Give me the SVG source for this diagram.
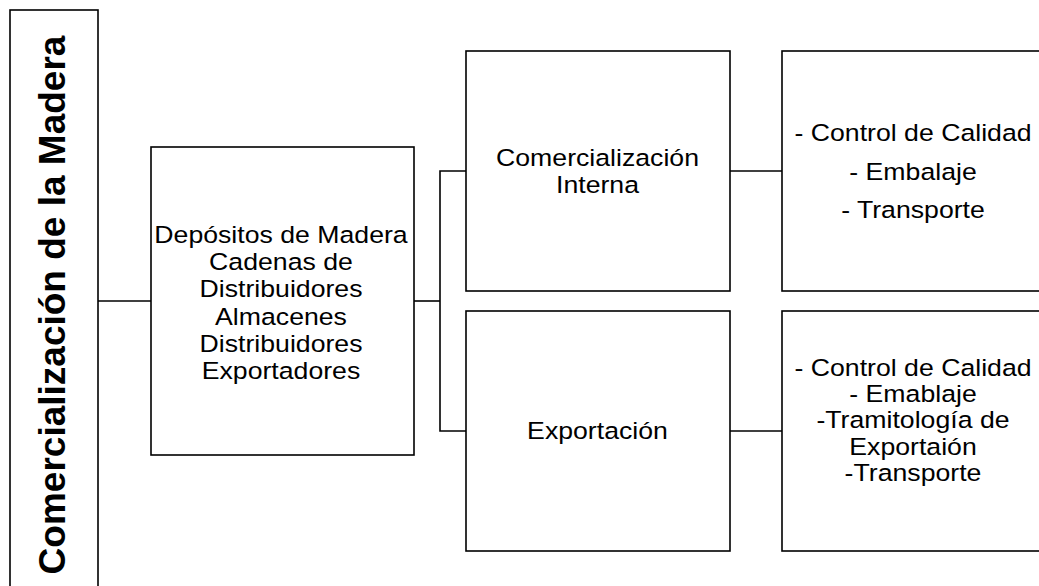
<svg xmlns="http://www.w3.org/2000/svg" width="1039" height="586" viewBox="0 0 1039 586">
<style>
.box{fill:#fff;stroke:#000;stroke-width:1.6}
.ln{fill:none;stroke:#000;stroke-width:1.6}
.t{font-family:"Liberation Sans",Arial,sans-serif;font-size:23.7px;fill:#000;text-anchor:middle}
.title{font-family:"Liberation Sans",Arial,sans-serif;font-size:37px;font-weight:bold;fill:#000;text-anchor:middle}
</style>
<rect width="1039" height="586" fill="#fff"/>
<g id="connectors">
<line class="ln" x1="98" y1="301" x2="151" y2="301"/>
<line class="ln" x1="414" y1="301" x2="440" y2="301"/>
<polyline class="ln" points="466,171 440,171 440,431 466,431"/>
<line class="ln" x1="730" y1="171" x2="782" y2="171"/>
<line class="ln" x1="730" y1="431" x2="782" y2="431"/>
</g>
<g id="node-root">
<rect class="box" x="10" y="10" width="88" height="590"/>
<text class="title" transform="translate(65 305) rotate(-90)" x="0" y="0">Comercialización de la Madera</text>
</g>
<g id="node-actores">
<rect class="box" x="151" y="147" width="263" height="308"/>
<g transform="translate(281 0) scale(1.125 1)">
<text class="t" x="0" y="243">Depósitos de Madera</text>
<text class="t" x="0" y="270.2">Cadenas de</text>
<text class="t" x="0" y="297.4">Distribuidores</text>
<text class="t" x="0" y="324.6">Almacenes</text>
<text class="t" x="0" y="351.8">Distribuidores</text>
<text class="t" x="0" y="379">Exportadores</text>
</g>
</g>
<g id="node-interna">
<rect class="box" x="466" y="51" width="264" height="240"/>
<g transform="translate(597.5 0) scale(1.125 1)">
<text class="t" x="0" y="166">Comercialización</text>
<text class="t" x="0" y="193.3">Interna</text>
</g>
</g>
<g id="node-exportacion">
<rect class="box" x="466" y="311" width="264" height="240"/>
<g transform="translate(597.5 0) scale(1.125 1)">
<text class="t" x="0" y="439.3">Exportación</text>
</g>
</g>
<g id="node-interna-tareas">
<rect class="box" x="782" y="51" width="262" height="240"/>
<g transform="translate(913 0) scale(1.125 1)">
<text class="t" x="0" y="141">- Control de Calidad</text>
<text class="t" x="0" y="180">- Embalaje</text>
<text class="t" x="0" y="218">- Transporte</text>
</g>
</g>
<g id="node-exportacion-tareas">
<rect class="box" x="782" y="311" width="262" height="240"/>
<g transform="translate(913 0) scale(1.125 1)">
<text class="t" x="0" y="375.7">- Control de Calidad</text>
<text class="t" x="0" y="402">- Emablaje</text>
<text class="t" x="0" y="428.3">-Tramitología de</text>
<text class="t" x="0" y="454.7">Exportaión</text>
<text class="t" x="0" y="481">-Transporte</text>
</g>
</g>
</svg>
